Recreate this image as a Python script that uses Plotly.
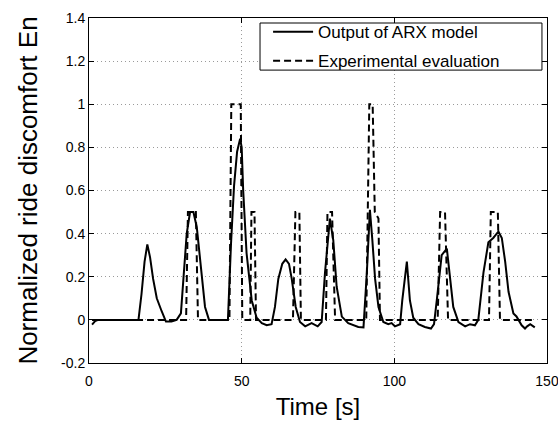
import plotly.graph_objects as go

# ARX model output (solid)
arx_t = [1.0, 2.0, 3.0, 8.0, 16.2, 17.2, 18.2, 19.1, 20.0, 21.0, 22.2, 23.8, 25.2, 27.0, 28.7,
         30.1, 31.0, 32.0, 33.1, 34.2, 35.3, 36.7, 38.0, 39.3, 45.5, 46.5, 47.5, 48.5, 49.5,
         50.0, 50.5, 51.6, 53.3, 54.9, 56.6, 58.2, 59.8, 60.9, 62.0, 63.3, 64.4, 65.5, 66.4,
         67.7, 69.1, 70.8, 72.9, 74.9, 76.2, 77.3, 78.9, 80.0, 81.1, 82.8, 84.9, 88.2, 89.9,
         91.0, 92.0, 92.8, 93.7, 94.8, 96.4, 98.0, 99.1, 100.2, 101.9, 102.6, 104.1, 105.1,
         106.2, 107.9, 110.0, 112.0, 113.0, 113.9, 115.5, 117.2, 118.2, 119.3, 121.0, 123.2,
         124.8, 126.4, 127.5, 129.2, 130.8, 132.4, 134.1, 135.2, 136.3, 137.4, 139.0, 140.0,
         141.7, 142.8, 143.5, 144.5, 146.0]
arx_v = [-0.022, -0.006, 0.0, 0.0, 0.0, 0.12, 0.27, 0.35, 0.29, 0.19, 0.10, 0.04, -0.008, -0.008, 0.0,
         0.03, 0.20, 0.40, 0.50, 0.50, 0.43, 0.22, 0.06, 0.0, 0.0, 0.35, 0.62, 0.78, 0.84,
         0.80, 0.60, 0.31, 0.09, 0.01, -0.015, -0.025, -0.02, 0.06, 0.19, 0.26, 0.28, 0.26, 0.19,
         0.06, -0.01, -0.03, -0.015, -0.03, -0.01, 0.22, 0.47, 0.37, 0.155, 0.015, -0.015, -0.033, -0.035,
         0.22, 0.51, 0.37, 0.19, 0.06, -0.01, -0.02, -0.015, -0.03, -0.02, 0.09, 0.27, 0.09,
         0.01, -0.02, -0.033, -0.04, -0.02, 0.09, 0.30, 0.33, 0.20, 0.06, -0.01, -0.03,
         -0.02, -0.025, 0.0, 0.22, 0.36, 0.38, 0.41, 0.38, 0.27, 0.13, 0.03, 0.016,
         -0.025, -0.04, -0.03, -0.02, -0.035]

# Experimental evaluation (dashed)
exp_t = [1.0, 31.8, 32.4, 35.0, 35.7, 46.0, 46.6, 49.7, 50.2, 52.8, 53.2, 54.2, 54.7,
         66.8, 67.6, 68.9, 69.4, 77.6, 78.1, 79.6, 80.6, 90.8, 91.8, 92.9, 93.6, 94.8, 95.3,
         114.2, 115.0, 116.6, 117.6, 131.0, 131.6, 133.9, 134.6, 146.0]
exp_v = [0, 0, 0.5, 0.5, 0, 0, 1.0, 1.0, 0, 0, 0.5, 0.5, 0,
         0, 0.5, 0.5, 0, 0, 0.5, 0.5, 0, 0, 1.0, 1.0, 0.5, 0.47, 0,
         0, 0.5, 0.5, 0, 0, 0.5, 0.5, 0, 0]

x_ticks = [0, 50, 100, 150]
y_ticks = [-0.2, 0, 0.2, 0.4, 0.6, 0.8, 1, 1.2, 1.4]
y_tick_text = ["-0.2", "0", "0.2", "0.4", "0.6", "0.8", "1", "1.2", "1.4"]

FONT = "Liberation Sans, Arial, sans-serif"

fig = go.Figure()
fig.add_trace(go.Scatter(x=arx_t, y=arx_v, mode="lines", name="Output of ARX model",
                         line=dict(color="black", width=2), legendgroup="a"))
fig.add_trace(go.Scatter(x=exp_t, y=exp_v, mode="lines", name="Experimental evaluation",
                         line=dict(color="black", width=2, dash="7px,4px"), legendgroup="b"))

axis_common = dict(showline=True, linecolor="black", linewidth=1, mirror="ticks",
                   ticks="inside", ticklen=5, tickcolor="black", tickwidth=1,
                   showgrid=True, gridcolor="#9a9a9a", gridwidth=1, griddash="1px,3px",
                   zeroline=False, tickfont=dict(family=FONT, size=14, color="black"),
                   ticklabeloverflow="allow")

fig.update_xaxes(range=[0, 150], tickvals=x_ticks, ticktext=[str(v) for v in x_ticks],
                 ticklabelstandoff=5,
                 title=dict(text="Time [s]", font=dict(family=FONT, size=24, color="black"), standoff=10),
                 **axis_common)
fig.update_yaxes(range=[-0.2, 1.4], tickvals=y_ticks, ticktext=y_tick_text,
                 title=dict(text="Normalized ride discomfort En", font=dict(family=FONT, size=26, color="black"), standoff=15),
                 **axis_common)

# legend frame
fig.add_shape(type="rect", xref="paper", yref="paper", x0=0.3734, x1=0.989, y0=0.849, y1=0.9855,
              line=dict(color="black", width=1), fillcolor="white", layer="above")

fig.update_layout(
    width=558, height=421,
    margin=dict(l=89, r=11, t=18, b=58, autoexpand=False),
    paper_bgcolor="white", plot_bgcolor="white",
    font=dict(family=FONT, color="black"),
    legend=dict(x=0.391, xanchor="left", y=1.011, yanchor="top",
                bgcolor="rgba(0,0,0,0)", borderwidth=0, itemwidth=40,
                font=dict(family=FONT, size=17, color="black"),
                traceorder="grouped", tracegroupgap=4),
)

fig.write_html("out.html")
